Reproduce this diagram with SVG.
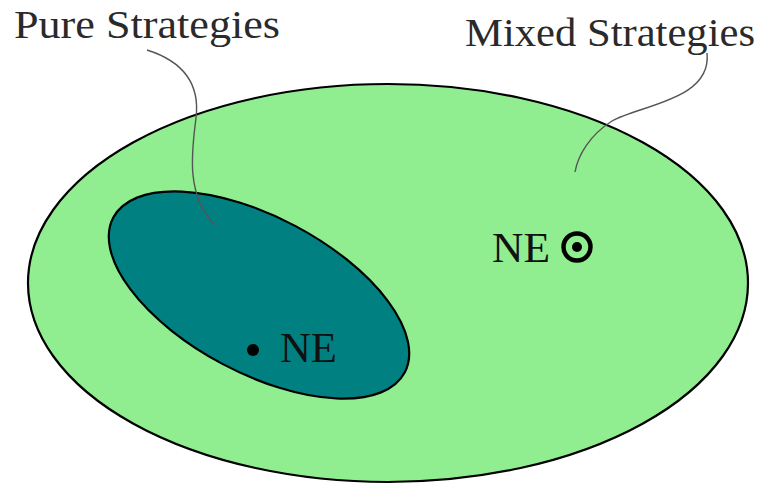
<svg xmlns="http://www.w3.org/2000/svg" width="762" height="484" viewBox="0 0 762 484">
<style>
.lbl{font-family:"Liberation Serif","Times New Roman",serif;font-size:40px;fill:#2a2a2a}
.ne{font-family:"Liberation Serif","Times New Roman",serif;font-size:42px;fill:#111}
.lead{fill:none;stroke:#555;stroke-width:1.4}
</style>
<rect width="762" height="484" fill="#ffffff"/>
<g id="mixed">
<ellipse cx="388" cy="283" rx="360" ry="199" fill="#90ee90" stroke="#000" stroke-width="2.2"/>
</g>
<g id="pure">
<ellipse cx="0" cy="0" rx="165" ry="78" transform="translate(259 295) rotate(28)" fill="#008080" stroke="#000" stroke-width="2.2"/>
</g>
<g id="ne-pure">
<circle cx="253" cy="350" r="6" fill="#000"/>
<text class="ne" x="280" y="362" textLength="57" lengthAdjust="spacingAndGlyphs">NE</text>
</g>
<g id="ne-mixed">
<text class="ne" x="492" y="262" textLength="58" lengthAdjust="spacingAndGlyphs">NE</text>
<circle cx="577" cy="247" r="13.5" fill="none" stroke="#000" stroke-width="4.5"/>
<circle cx="577" cy="247" r="5" fill="#000"/>
</g>
<g id="label-pure">
<text class="lbl" x="14" y="38" textLength="266" lengthAdjust="spacingAndGlyphs">Pure Strategies</text>
</g>
<g id="label-mixed">
<text class="lbl" x="465" y="46" textLength="290" lengthAdjust="spacingAndGlyphs">Mixed Strategies</text>
</g>
<g id="connectors">
<path class="lead" d="M147,50 C185,62 200,85 196,118 C192,150 185,195 215,225"/>
<path class="lead" d="M707,53 C712,100 640,105 612,121 C590,135 578,155 575,172"/>
</g>
</svg>
